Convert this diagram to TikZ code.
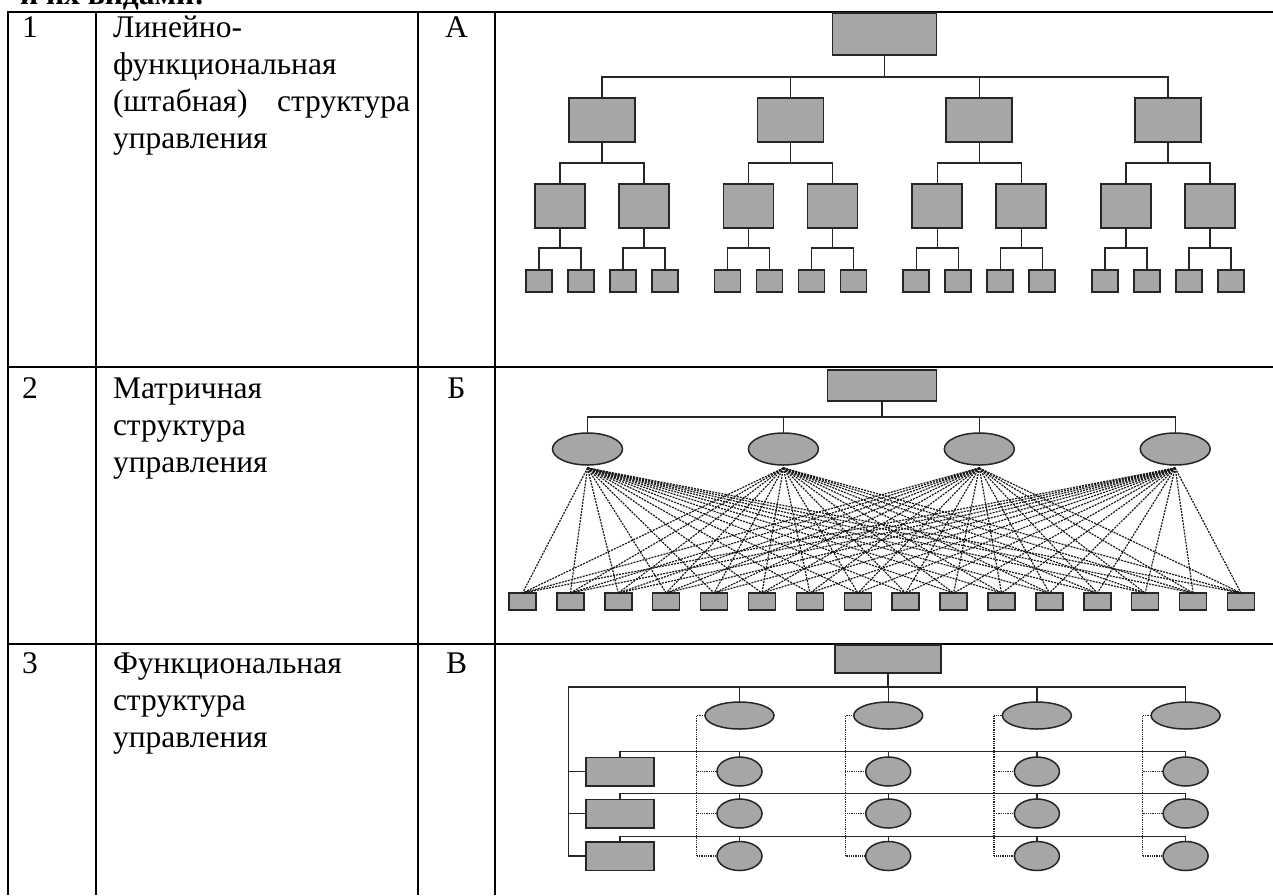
\documentclass[tikz,border=0pt]{standalone}
\usepackage{fontspec}
\setmainfont{Liberation Serif}
\usetikzlibrary{shapes.geometric}
\definecolor{boxgray}{HTML}{A6A6A6}
\definecolor{edge}{HTML}{262626}
\begin{document}
\begin{tikzpicture}[x=1pt,y=-1pt,
  box/.style={draw=edge,line width=1.5pt,fill=boxgray,inner sep=0pt,outer sep=0pt},
  oval/.style={ellipse,draw=edge,line width=1.5pt,fill=boxgray,inner sep=0pt,outer sep=0pt},
  link/.style={draw=edge,line width=1.4pt},
  dlink/.style={draw=black!90,line width=1.2pt,dash pattern=on 2pt off 1.1pt},
  dotlink/.style={draw=edge,line width=1.3pt,dash pattern=on 1pt off 0.8pt},
  tbl/.style={draw=black,line width=2pt},
  txt/.style={inner sep=0pt,outer sep=0pt,anchor=base west,font=\fontsize{31.5}{37}\selectfont},
  lett/.style={inner sep=0pt,outer sep=0pt,anchor=base,font=\fontsize{31.5}{37}\selectfont}
]
\useasboundingbox (0,0) rectangle (1273,895);

% ---------- table ----------
\draw[tbl] (8,12) -- (1273,12);
\draw[tbl] (8,367) -- (1273,367);
\draw[tbl] (8,644) -- (1273,644);
\draw[tbl] (8,11) -- (8,895);
\draw[tbl] (96,11) -- (96,895);
\draw[tbl] (418,11) -- (418,895);
\draw[tbl] (495,11) -- (495,895);

\node[txt,font=\fontsize{31.5}{37}\selectfont\bfseries] (hdr) at (20,4) {и их видами:};

\node[txt] (n1) at (22,37) {1};
\node[txt] (t11) at (113,37) {Линейно-};
\node[txt] (t12) at (113,74) {функциональная};
\node[txt] (t13) at (113,111) {\hbox to 297pt{(штабная)\hfill структура}};
\node[txt] (t14) at (113,148) {управления};
\node[lett] (l1) at (456.5,37) {А};

\node[txt] (n2) at (22,398) {2};
\node[txt] (t21) at (113,398) {Матричная};
\node[txt] (t22) at (113,435) {структура};
\node[txt] (t23) at (113,472) {управления};
\node[lett] (l2) at (456.5,398) {Б};

\node[txt] (n3) at (22,673) {3};
\node[txt] (t31) at (113,673) {Функциональная};
\node[txt] (t32) at (113,710) {структура};
\node[txt] (t33) at (113,747) {управления};
\node[lett] (l3) at (456.5,673) {В};

% ---------- diagram A ----------
\node[box,minimum width=104pt,minimum height=42pt] (atop) at (884.5,34) {};
\foreach \g in {0,...,3}{
  \pgfmathsetmacro\xb{602+188.6*\g}
  \node[box,minimum width=66pt,minimum height=44pt] (a\g) at (\xb,120) {};
  \draw[link] (atop.south) -- ++(0,22) -| (a\g.north);
  \foreach \k/\sk in {0/-1,1/1}{
    \pgfmathsetmacro\xc{\xb+42*\sk}
    \node[box,minimum width=50pt,minimum height=44pt] (a\g-\k) at (\xc,206) {};
    \draw[link] (a\g.south) -- ++(0,21) -| (a\g-\k.north);
    \foreach \m/\sm in {0/-1,1/1}{
      \pgfmathsetmacro\xd{\xc+21*\sm}
      \node[box,minimum width=26pt,minimum height=22pt] (a\g-\k-\m) at (\xd,281) {};
      \draw[link] (a\g-\k.south) -- ++(0,20) -| (a\g-\k-\m.north);
    }
  }
}

% ---------- diagram B ----------
\node[box,minimum width=109pt,minimum height=31pt] (btop) at (882,385.5) {};
\foreach \j in {0,...,15}{
  \pgfmathsetmacro\xj{522.5+47.9*\j}
  \node[box,minimum width=27pt,minimum height=17pt] (bb\j) at (\xj,601.5) {};
}
\foreach \i in {0,...,3}{
  \pgfmathsetmacro\xi{587.5+195.9*\i}
  \node[oval,minimum width=70pt,minimum height=32pt] (b\i) at (\xi,449) {};
  \draw[link] (btop.south) -- ++(0,16) -| (b\i.north);
  \coordinate (bc\i) at ([yshift=-3pt]b\i.south);
  \foreach \j in {0,...,15}{
    \draw[dlink] (bc\i) -- (bb\j.north);
  }
}

% ---------- diagram C ----------
\node[box,minimum width=106pt,minimum height=28pt] (ctop) at (888,659) {};
\node[box,minimum width=68pt,minimum height=28.5pt] (cL1) at (620,771.5) {};
\node[box,minimum width=68pt,minimum height=28.5pt] (cL2) at (620,813.5) {};
\node[box,minimum width=68pt,minimum height=28.5pt] (cL3) at (620,856) {};
\coordinate (cl) at (568.5,687);
\draw[link] (ctop.south) |- (cl) |- (cL3.west);
\draw[link] (cl |- cL1.west) -- (cL1.west);
\draw[link] (cl |- cL2.west) -- (cL2.west);
\foreach \i in {0,...,3}{
  \pgfmathsetmacro\xi{739.5+148.7*\i}
  \node[oval,minimum width=69pt,minimum height=27pt] (c\i) at (\xi,715.5) {};
  \draw[link] (ctop.south) -- ++(0,14) -| (c\i.north);
  \foreach \r/\yr in {1/771.5,2/813.5,3/856}{
    \node[oval,minimum width=45pt,minimum height=29pt] (cc\r-\i) at (\xi,\yr) {};
    \draw[link] (cL\r.north) -- ++(0,-5.5) -| (cc\r-\i.north);
  }
  \coordinate (cd\i) at ([xshift=-8.5pt]c\i.west);
  \draw[dotlink] (c\i.west) -- (cd\i) |- (cc3-\i.west);
  \draw[dotlink] (cd\i |- cc1-\i.west) -- (cc1-\i.west);
  \draw[dotlink] (cd\i |- cc2-\i.west) -- (cc2-\i.west);
}
\end{tikzpicture}
\end{document}
